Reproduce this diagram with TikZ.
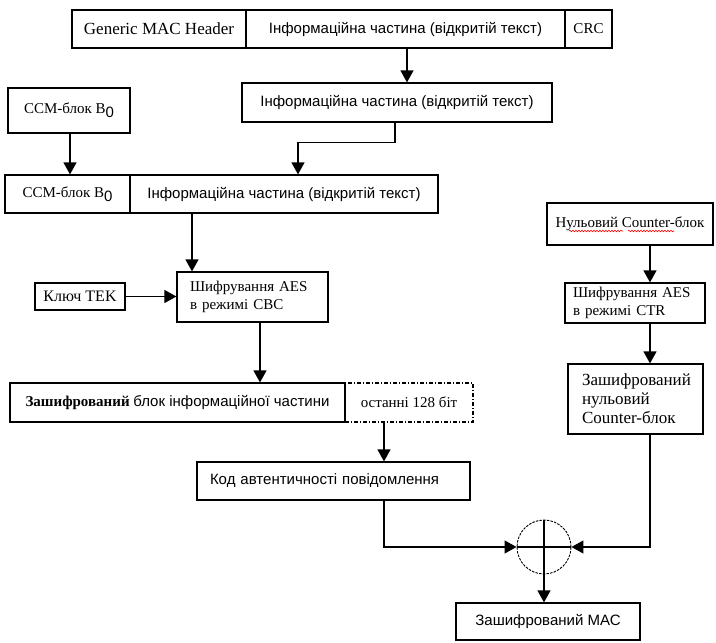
\documentclass[tikz,border=0pt]{standalone}
\usepackage{fontspec}
\setmainfont{Liberation Serif}
\setsansfont{Liberation Sans}
\usetikzlibrary{arrows.meta,decorations.pathmorphing}
\begin{document}
\begin{tikzpicture}[x=1pt,y=-1pt,
  box/.style={draw,line width=1.2pt,rectangle,inner sep=2pt},
  sf/.style={font=\sffamily\fontsize{15}{17}\selectfont},
  rm/.style={font=\fontsize{15}{18}\selectfont},
  arr/.style={line width=1.2pt,-{Triangle[length=12pt,width=13pt]}},
  ln/.style={line width=1.2pt},
  wavy/.style={red,line width=0.6pt,decorate,decoration={snake,amplitude=0.8pt,segment length=3pt}}
]
\useasboundingbox (0,0) rectangle (716,643);
\newcommand{\bnull}{B\raisebox{-0.6ex}{\sffamily 0}}

% top row
\node[box,font=\fontsize{17}{19}\selectfont,minimum width=174pt,minimum height=38pt] (gmh) at (159,29) {Generic MAC Header};
\node[box,sf,minimum width=319pt,minimum height=38pt] (info1) at (405.5,29) {Інформаційна частина (відкритій текст)};
\node[box,rm,minimum width=47pt,minimum height=38pt] (crc) at (588.5,29) {CRC};

\node[box,sf,minimum width=310pt,minimum height=39pt] (info2) at (397,102.5) {Інформаційна частина (відкритій текст)};
\node[box,rm,minimum width=122pt,minimum height=45pt] (ccm1) at (69,110.5) {CCM-блок \bnull};

\node[box,rm,minimum width=125pt,minimum height=38pt] (ccm2) at (67.5,194) {CCM-блок \bnull};
\node[box,sf,minimum width=308pt,minimum height=38pt] (info3) at (284,194) {Інформаційна частина (відкритій текст)};

\node[box,rm,text width=125pt,inner xsep=13pt,align=left,minimum height=50pt] (cbc) at (252.5,297) {Шифрування AES\\в режимі CBC};
\node[box,font=\fontsize{16}{18}\selectfont,minimum width=90pt,minimum height=27pt] (tek) at (80,296.5) {Ключ TEK};

\node[box,minimum width=335pt,minimum height=39pt] (enc) at (177.5,402.5) {\fontsize{15}{17}\selectfont\textbf{Зашифрований} \sffamily блок інформаційної частини};
\node[draw,line width=1.2pt,dash pattern=on 4pt off 2pt on 1pt off 2pt,rm,minimum width=128pt,minimum height=39pt] (last) at (409,402.5) {останні 128 біт};

\node[box,sf,text width=247pt,inner xsep=13pt,align=left,minimum height=38pt] (mac) at (333.5,481) {Код автентичності повідомлення};

% right chain
\node[box,rm,inner sep=1pt,minimum width=166pt,minimum height=42pt] (ctr0) at (630,224) {Нульовий Counter-блок};
\node[box,rm,text width=124pt,inner xsep=8pt,align=left,minimum height=40pt] (ctr) at (635,303) {Шифрування AES\\в режимі CTR};
\node[box,font=\fontsize{17}{19}\selectfont,text width=107pt,inner xsep=14pt,align=left,minimum height=70pt] (ctrenc) at (635.5,399) {Зашифрований\\нульовий\\Counter-блок};

% xor
\node[draw,circle,line width=0.9pt,dash pattern=on 2.5pt off 1.2pt,minimum size=54pt,inner sep=0pt] (xor) at (544,547) {};
\draw[ln] (xor.north) -- (xor.south);
\draw[ln] (xor.west) -- (xor.east);

\node[box,sf,minimum width=184pt,minimum height=37pt] (emac) at (548,621.5) {Зашифрований МАС};

% spell-check underline
\draw[wavy] ([xshift=-61pt,yshift=-7pt]ctr0.center) -- ([xshift=-7pt,yshift=-7pt]ctr0.center);
\draw[wavy] ([xshift=-2pt,yshift=-7pt]ctr0.center) -- ([xshift=44pt,yshift=-7pt]ctr0.center);

% connectors
\draw[arr] ([xshift=1.5pt]info1.south) -- ([xshift=1.5pt]info1.south |- info2.north);
\draw[arr] ([xshift=1pt]ccm1.south) -- ([xshift=1pt]ccm1.south |- ccm2.north);
\draw[arr] ([xshift=-2pt]info2.south) -- ++(0,20) -| ([xshift=14pt]info3.north);
\draw[arr] ([xshift=-60.5pt]cbc.north |- info3.south) -- ([xshift=-60.5pt]cbc.north);
\draw[arr] (tek.east) -- (tek.east -| cbc.west);
\draw[arr] ([xshift=7.5pt]cbc.south) -- ([xshift=7.5pt]cbc.south |- enc.north);
\draw[arr] ([xshift=-25pt]last.south) -- ([xshift=-25pt]last.south |- mac.north);
\draw[arr] ([xshift=50.5pt]mac.south) |- (xor.west);
\draw[arr] ([xshift=20pt]ctr0.south) -- ([xshift=20pt]ctr0.south |- ctr.north);
\draw[arr] ([xshift=15pt]ctr.south) -- ([xshift=15pt]ctr.south |- ctrenc.north);
\draw[arr] ([xshift=14.5pt]ctrenc.south) |- (xor.east);
\draw[arr] (xor.south) -- (xor.south |- emac.north);
\end{tikzpicture}
\end{document}
